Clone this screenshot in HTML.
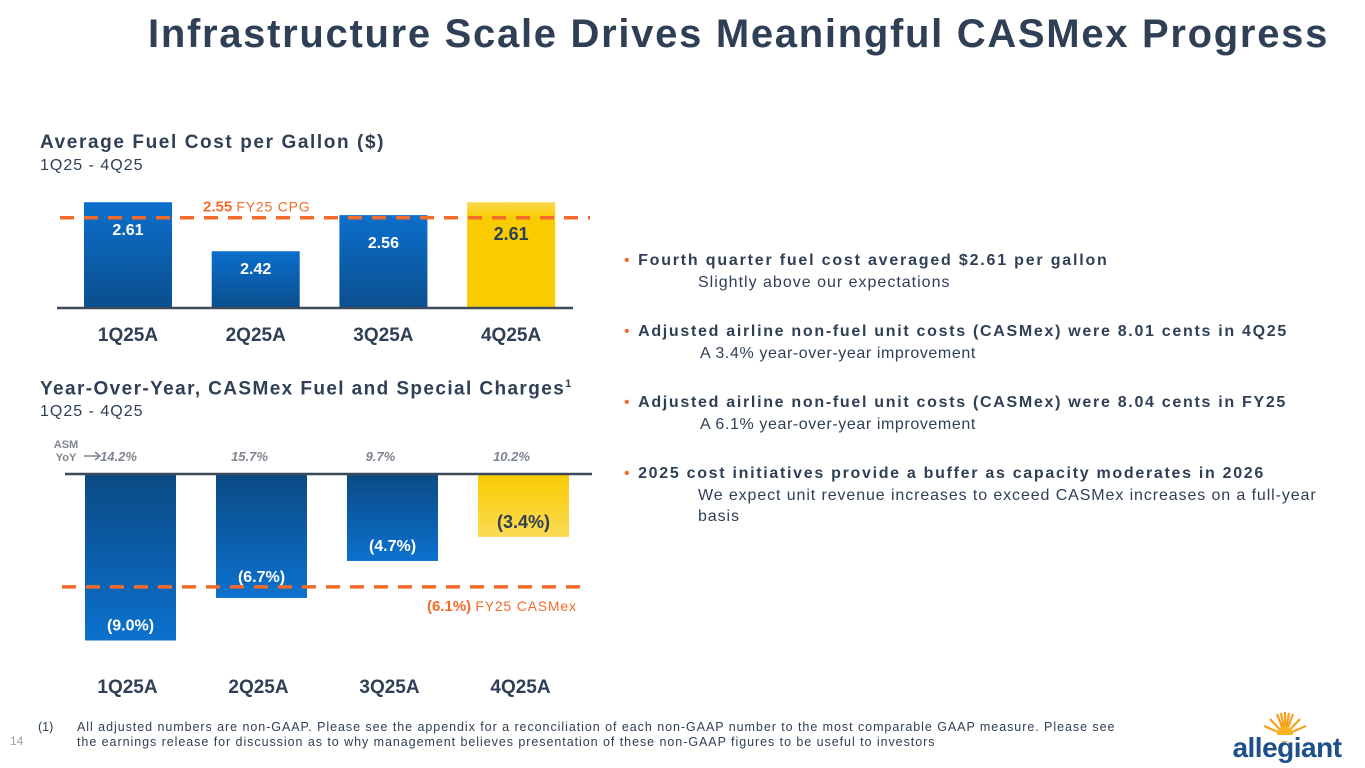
<!DOCTYPE html>
<html><head><meta charset="utf-8"><style>
body{margin:0;width:1365px;height:768px;background:#fff;overflow:hidden;font-family:"Liberation Sans",sans-serif;color:#2f3f55;position:relative}
.a{position:absolute;white-space:nowrap}
.b{font-weight:bold}
</style></head><body>
<div class="a b" style="left:148px;top:12px;font-size:40px;letter-spacing:1.7px;color:#2f3f55">Infrastructure Scale Drives Meaningful CASMex Progress</div>

<div class="a b" style="left:40px;top:132px;font-size:19px;letter-spacing:1.6px">Average Fuel Cost per Gallon ($)</div>
<div class="a" style="left:40px;top:157px;font-size:16px;letter-spacing:1px">1Q25 - 4Q25</div>
<div class="a b" style="left:40px;top:378px;font-size:19px;letter-spacing:1.4px">Year-Over-Year, CASMex Fuel and Special Charges<sup style="font-size:11px">1</sup></div>
<div class="a" style="left:40px;top:403px;font-size:16px;letter-spacing:1px">1Q25 - 4Q25</div>

<svg class="a" style="left:0;top:0" width="620" height="768" id="svg">
<defs>
<linearGradient id="gTop" x1="0" y1="0" x2="0" y2="1"><stop offset="0" stop-color="#0b6fcc"/><stop offset="1" stop-color="#0b4f8e"/></linearGradient>
<linearGradient id="gBot" x1="0" y1="0" x2="0" y2="1"><stop offset="0" stop-color="#0b4a84"/><stop offset="1" stop-color="#0b71ce"/></linearGradient>
<linearGradient id="yTop" x1="0" y1="0" x2="0" y2="1"><stop offset="0" stop-color="#fbd94d"/><stop offset="0.15" stop-color="#f8cc00"/><stop offset="1" stop-color="#f8cc00"/></linearGradient>
<linearGradient id="yBot" x1="0" y1="0" x2="0" y2="1"><stop offset="0" stop-color="#f8cc00"/><stop offset="1" stop-color="#fcdb55"/></linearGradient>
</defs>
</svg>

<div class="a" style="left:624px;top:250px;font-size:16px;line-height:21px">
<div style="position:absolute;top:0"><span style="color:#f26b2a">•</span> <span class="b" style="margin-left:4px;letter-spacing:1.8px">Fourth quarter fuel cost averaged $2.61 per gallon</span><div style="margin-left:74px;margin-top:1px;letter-spacing:1px">Slightly above our expectations</div></div>
<div style="position:absolute;top:71px"><span style="color:#f26b2a">•</span> <span class="b" style="margin-left:4px;letter-spacing:1.7px">Adjusted airline non-fuel unit costs (CASMex) were 8.01 cents in 4Q25</span><div style="margin-left:76px;margin-top:1px;letter-spacing:0.6px">A 3.4% year-over-year improvement</div></div>
<div style="position:absolute;top:142px"><span style="color:#f26b2a">•</span> <span class="b" style="margin-left:4px;letter-spacing:1.7px">Adjusted airline non-fuel unit costs (CASMex) were 8.04 cents in FY25</span><div style="margin-left:76px;margin-top:1px;letter-spacing:0.6px">A 6.1% year-over-year improvement</div></div>
<div style="position:absolute;top:213px"><span style="color:#f26b2a">•</span> <span class="b" style="margin-left:4px;letter-spacing:1.7px">2025 cost initiatives provide a buffer as capacity moderates in 2026</span><div style="margin-left:74px;margin-top:1px;white-space:normal;width:620px;letter-spacing:0.9px">We expect unit revenue increases to exceed CASMex increases on a full-year basis</div></div>
</div>

<div class="a" style="left:10px;top:734px;font-size:12px;color:#9aa3ad">14</div>
<div class="a" style="left:38px;top:720px;font-size:12.5px;line-height:15px">(1)</div>
<div class="a" style="left:77px;top:720px;font-size:12.5px;line-height:15px;letter-spacing:0.95px">All adjusted numbers are non-GAAP. Please see the appendix for a reconciliation of each non-GAAP number to the most comparable GAAP measure. Please see<br>the earnings release for discussion as to why management believes presentation of these non-GAAP figures to be useful to investors</div>

<svg class="a" style="left:1225px;top:708px" width="125" height="55">
<g stroke="#f6a11b" stroke-width="2.2">
<line x1="60" y1="27" x2="60" y2="4"/><line x1="60" y1="27" x2="52" y2="6"/><line x1="60" y1="27" x2="68" y2="6"/><line x1="60" y1="27" x2="45" y2="11"/><line x1="60" y1="27" x2="75" y2="11"/><line x1="60" y1="27" x2="39" y2="18"/><line x1="60" y1="27" x2="81" y2="18"/><line x1="60" y1="27" x2="56" y2="5"/><line x1="60" y1="27" x2="64" y2="5"/>
</g>
<circle cx="60" cy="26" r="8" fill="#f7b322"/>
<rect x="30" y="27" width="60" height="6" fill="#fff"/>
<text x="62" y="49" text-anchor="middle" font-family="Liberation Sans" font-weight="bold" font-size="28" fill="#1d4f8a" letter-spacing="-0.5">allegiant</text>
</svg>

<script>
const categories=["1Q25A","2Q25A","3Q25A","4Q25A"];
const fuelValues=[2.61,2.42,2.56,2.61];
const fuelLabels=["2.61","2.42","2.56","2.61"];
const fuelAvg=2.55;
const casmexValues=[-9.0,-6.7,-4.7,-3.4];
const casmexLabels=["(9.0%)","(6.7%)","(4.7%)","(3.4%)"];
const casmexAvg=-6.1;
const asmYoY=["14.2%","15.7%","9.7%","10.2%"];
const NS="http://www.w3.org/2000/svg";
const svg=document.getElementById('svg');
function mk(t,a,txt){const e=document.createElementNS(NS,t);for(const k in a)e.setAttribute(k,a[k]);if(txt!==undefined)e.textContent=txt;svg.appendChild(e);return e;}
const topX=i=>84+i*127.7, topW=88;
const barX=i=>85+i*131, barW=91;
// top chart
const yTop=v=>308-(v-2.2)*258;
fuelValues.forEach((v,i)=>{
 const y=yTop(v);
 const r=mk('rect',{x:topX(i),y:y,width:topW,height:308-y,fill:i==3?'url(#yTop)':'url(#gTop)'});
 
 
 const t=mk('text',{x:topX(i)+topW/2,y:y+(i==1?23:(i==3?38:33)),'text-anchor':'middle','font-size':i==3?'18':'16','font-weight':'bold',fill:i==3?'#2f3f55':'#fff'},fuelLabels[i]);
 
 
 const c=mk('text',{x:topX(i)+topW/2,y:341,'text-anchor':'middle','font-size':'19','font-weight':'bold',fill:'#2f3f55'},categories[i]);
 
 
});
const ax1=mk('line',{x1:57,x2:573,y1:308,y2:308,stroke:'#3d4a5c','stroke-width':2.5});


const d1=mk('line',{x1:60,x2:590,y1:yTop(fuelAvg),y2:yTop(fuelAvg),stroke:'#f26b2a','stroke-width':3.5,'stroke-dasharray':'14 10'});


const l1=mk('text',{x:203,y:yTop(fuelAvg)-6,'font-size':'15','font-weight':'bold',fill:'#f26b2a'});
l1.innerHTML='2.55 <tspan font-weight="normal" font-size="14" letter-spacing="0.8">FY25 CPG</tspan>';


// bottom chart
const yBot=v=>474-v*18.5;
casmexValues.forEach((v,i)=>{
 const y=yBot(v);
 const r=mk('rect',{x:barX(i),y:474,width:barW,height:y-474,fill:i==3?'url(#yBot)':'url(#gBot)'});
 
 
 const t=mk('text',{x:barX(i)+barW/2,y:y-(i==1?16:(i==3?9:10)),'text-anchor':'middle','font-size':i==3?'18':'16','font-weight':'bold',fill:i==3?'#2f3f55':'#fff'},casmexLabels[i]);
 
 
 const a=mk('text',{x:barX(i)+barW/2-12,y:461,'text-anchor':'middle','font-size':'13','font-style':'italic','font-weight':'bold',fill:'#7d8590'},asmYoY[i]);
 
 
 const c=mk('text',{x:barX(i)+barW/2-3,y:693,'text-anchor':'middle','font-size':'19','font-weight':'bold',fill:'#2f3f55'},categories[i]);
 
 
});
const ax2=mk('line',{x1:65,x2:592,y1:474,y2:474,stroke:'#3d4a5c','stroke-width':2.5});


const d2=mk('line',{x1:62,x2:590,y1:yBot(casmexAvg),y2:yBot(casmexAvg),stroke:'#f26b2a','stroke-width':3.5,'stroke-dasharray':'14 10'});


const l2=mk('text',{x:427,y:yBot(casmexAvg)+24,'font-size':'15','font-weight':'bold',fill:'#f26b2a'});
l2.innerHTML='(6.1%) <tspan font-weight="normal" font-size="14" letter-spacing="0.8">FY25 CASMex</tspan>';


const asm=mk('text',{x:66,y:448,'text-anchor':'middle','font-size':'11','font-weight':'bold',fill:'#7d8590'});
asm.innerHTML='<tspan x="66">ASM</tspan><tspan x="66" dy="13">YoY</tspan>';


const arr=mk('path',{d:'M84 456 L100 456 M95 452 L100 456 L95 460',stroke:'#7d8590','stroke-width':1.5,fill:'none'});


</script>
</body></html>
